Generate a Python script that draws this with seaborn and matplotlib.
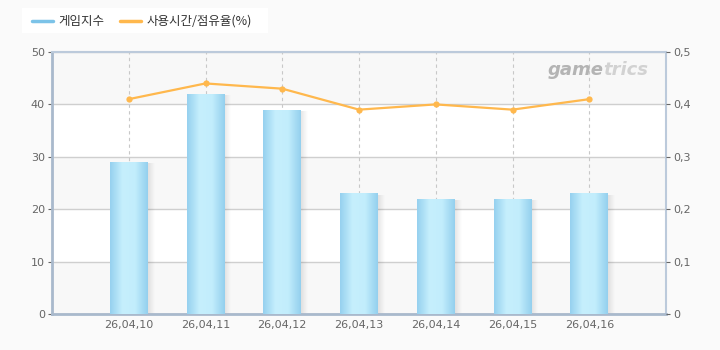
import numpy as np
import pandas as pd
import matplotlib
matplotlib.use("Agg")
import matplotlib.pyplot as plt
import seaborn as sns
from matplotlib.colors import LinearSegmentedColormap
from matplotlib.patches import Rectangle

dates = ["26,04,10", "26,04,11", "26,04,12", "26,04,13", "26,04,14", "26,04,15", "26,04,16"]
game_index = [29, 42, 39, 23, 22, 22, 23]
share = [0.41, 0.44, 0.43, 0.39, 0.40, 0.39, 0.41]
left_ticks = [0, 10, 20, 30, 40, 50]
right_ticks = [0, 0.1, 0.2, 0.3, 0.4, 0.5]
right_labels = ["0", "0,1", "0,2", "0,3", "0,4", "0,5"]

sns.set_theme(style="white")
plt.rcParams['font.family'] = ['DejaVu Sans', 'Noto Sans CJK KR']

df = pd.DataFrame({"date": dates, "game": game_index, "share": share, "x": np.arange(len(dates))})

fig = plt.figure(figsize=(7.2, 3.5), dpi=100, facecolor="#fafafa")
ax = fig.add_axes([52/720, 36/350, 614/720, 262/350])
ax.set_facecolor("white")

sns.barplot(data=df, x="date", y="game", ax=ax, color="#a8dcf4", width=0.49,
            saturation=1, zorder=3, edgecolor="none", linewidth=0)
bars = list(ax.containers[0])

# alternating bands
for i, lo in enumerate(range(0, 50, 10)):
    if i % 2 == 0:
        ax.axhspan(lo, lo + 10, color="#f8f8f8", zorder=0, lw=0)

ax.set_xlim(-1, 7)
ax.set_ylim(0, 50)
ax.set_yticks(left_ticks)
ax.set_yticklabels([str(t) for t in left_ticks])
ax.yaxis.grid(True, color="#cfcfcf", lw=1, zorder=1)
for xv in range(len(dates)):
    ax.axvline(xv, color="#c8c8c8", lw=0.8, ls=(0, (3, 3)), zorder=1)

cmap = LinearSegmentedColormap.from_list("bar", ["#96d1ef", "#c6effd", "#c2edfc", "#94d0ee"])
grad = np.linspace(0, 1, 64).reshape(1, -1)
shadow_cmap = LinearSegmentedColormap.from_list("sh", [(0, 0, 0, 0.10), (0, 0, 0, 0.0)])
for p in bars:
    x0, w, h = p.get_x(), p.get_width(), p.get_height()
    ax.imshow(grad, extent=[x0 + w, x0 + w + 0.09, 0, h - 0.3], aspect="auto",
              cmap=shadow_cmap, zorder=2.5, interpolation="bicubic")
    im = ax.imshow(grad, extent=[x0, x0 + w, 0, h], aspect="auto", cmap=cmap,
                   zorder=3.5, interpolation="bicubic")
    im.set_clip_path(p)
ax.set_xlim(-1, 7)
ax.set_ylim(0, 50)

ax.set_xlabel("")
ax.set_ylabel("")
ax.tick_params(axis="both", colors="#666666", labelsize=8, length=3, pad=2, width=0.8)
ax.tick_params(axis="x", length=0, pad=4)
for s in ["top", "right"]:
    ax.spines[s].set_color("#bccadb")
    ax.spines[s].set_linewidth(1.5)
for s in ["left", "bottom"]:
    ax.spines[s].set_color("#a9b9cc")
    ax.spines[s].set_linewidth(2)

ax2 = ax.twinx()
sns.lineplot(data=df, x="x", y="share", ax=ax2, color="#ffb84d", lw=1.6, marker="o",
             markersize=4.5, markeredgewidth=0, zorder=5)
ax2.set_ylim(0, 0.5)
ax2.set_xlim(-1, 7)
ax2.set_yticks(right_ticks)
ax2.set_yticklabels(right_labels)
ax2.set_ylabel("")
ax2.set_xlabel("")
ax2.tick_params(axis="y", colors="#666666", labelsize=8, length=3, pad=2, width=0.8)
for s in ax2.spines.values():
    s.set_visible(False)
ax2.grid(False)

# watermark
t1 = fig.text(548/720, 1 - 70/350, "game", fontsize=13, fontweight="bold", style="italic",
              color="#b4b4b4", ha="left", va="center", family="DejaVu Sans")
fig.canvas.draw()
bb = t1.get_window_extent()
fig.text((bb.x1 - 1) / 720, 1 - 70/350, "trics", fontsize=13, fontweight="bold", style="italic",
         color="#d2d2d2", ha="left", va="center", family="DejaVu Sans")

# legend
fig.patches.append(Rectangle((22/720, 1 - 33/350), 246/720, 25/350, transform=fig.transFigure,
                             facecolor="white", edgecolor="none", zorder=0))
fig.add_artist(plt.Line2D([32/720, 53/720], [1 - 21/350] * 2, color="#7cc3e8", lw=2.5,
                          transform=fig.transFigure))
fig.text(58/720, 1 - 21/350, "게임지수", fontsize=9, color="#333333", va="center",
         family=["Noto Sans CJK KR", "DejaVu Sans"])
fig.add_artist(plt.Line2D([120/720, 141/720], [1 - 21/350] * 2, color="#ffb84d", lw=2.5,
                          transform=fig.transFigure))
fig.text(147/720, 1 - 21/350, "사용시간/점유율(%)", fontsize=9, color="#333333", va="center",
         family=["Noto Sans CJK KR", "DejaVu Sans"])

fig.savefig("out.png", dpi=100, facecolor=fig.get_facecolor())
